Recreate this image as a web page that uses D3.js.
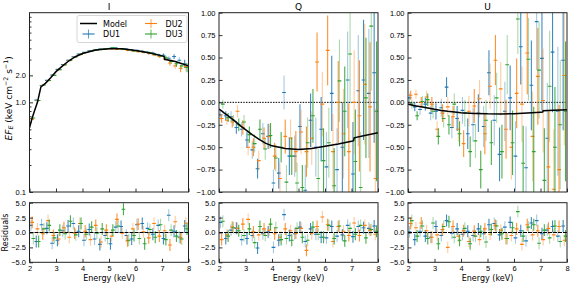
<!DOCTYPE html>
<html>
<head>
<meta charset="utf-8">
<script src="https://cdn.jsdelivr.net/npm/d3@7/dist/d3.min.js"></script>
<style>
  body { margin: 0; background: #fff; }
  svg { display: block; font-family: "DejaVu Sans", sans-serif; }
</style>
</head>
<body>
<svg id="chart" width="573" height="287"></svg>
<script>
// energy bin centres (keV) and half widths
const energy = [2.1, 2.3, 2.5, 2.7, 2.9, 3.1, 3.3, 3.5, 3.7, 3.9, 4.1, 4.3, 4.5, 4.7, 4.9,
                5.1, 5.3, 5.5, 5.7, 5.9, 6.1, 6.3, 6.5, 6.7, 6.9, 7.1, 7.3, 7.5, 7.7, 7.9];
const energyErr = 0.07;

// Stokes I (keV cm^-2 s^-1)
const iDU1 = [0.66, 1.06, 1.54, 1.76, 2.01, 2.33, 2.64, 2.95, 3.22, 3.45, 3.62, 3.76, 3.86, 3.93, 3.98,
              4.02, 4.05, 3.97, 3.92, 3.86, 3.80, 3.70, 3.62, 3.55, 3.40, 3.35, 3.10, 3.25, 2.95, 2.70];
const iDU2 = [0.65, 1.04, 1.55, 1.74, 1.99, 2.31, 2.60, 2.92, 3.18, 3.40, 3.58, 3.72, 3.84, 3.88, 3.92,
              3.95, 3.90, 3.88, 3.80, 3.75, 3.68, 3.60, 3.50, 3.38, 3.25, 3.05, 2.75, 2.55, 2.40, 2.50];
const iDU3 = [0.67, 1.05, 1.56, 1.75, 2.00, 2.32, 2.63, 2.93, 3.20, 3.43, 3.60, 3.73, 3.82, 3.92, 3.96,
              4.08, 3.98, 3.92, 3.86, 3.75, 3.72, 3.64, 3.56, 3.44, 3.30, 3.15, 2.85, 2.70, 2.55, 2.45];
const iErr = [0.01, 0.015, 0.02, 0.02, 0.025, 0.03, 0.03, 0.035, 0.04, 0.04, 0.045, 0.05, 0.05, 0.055, 0.06,
              0.065, 0.07, 0.075, 0.08, 0.085, 0.09, 0.1, 0.11, 0.12, 0.13, 0.15, 0.17, 0.2, 0.23, 0.28];

// Stokes Q and U (normalised)
const qDU1 = [-0.14, -0.15, -0.16, -0.28, -0.30, -0.42, -0.53, -0.74, -0.35, -0.38, -0.90, -0.79, 0.11, -0.60, -0.60,
              -0.27, -0.98, -0.20, -0.50, -0.30, -0.72, 0.10, -0.75, -0.50, 0.25, -0.80, 0.13, 0.25, 0.10, 0.33];
const qDU2 = [-0.18, -0.20, -0.22, -0.10, -0.28, -0.50, -0.50, -0.65, -0.40, -0.38, -0.60, -0.85, -0.38, -0.40, -0.55,
              -0.33, -0.55, -0.40, 0.45, -0.02, 0.58, -0.55, 0.00, -0.35, -0.55, 0.00, -0.15, 0.20, -0.05, -0.85];
const qDU3 = [-0.02, -0.17, -0.20, -0.25, -0.22, -0.36, -0.46, -0.30, -0.52, -0.37, -0.62, -0.50, -0.89, -0.60, -0.90,
              -0.95, -0.45, -0.15, -0.85, -0.65, -0.45, -0.93, 0.24, -0.10, 0.54, -0.66, -0.95, 0.05, 0.85, -0.10];
const uDU1 = [0.05, -0.05, -0.08, -0.02, -0.12, -0.10, -0.06, 0.17, -0.28, -0.18, -0.09, -0.35, -0.25, -0.12, -0.27,
              0.33, -0.20, -0.58, -0.10, 0.05, -0.60, 0.62, -0.73, 0.19, 0.90, 0.49, -0.40, 0.56, -0.10, 0.47];
const uDU2 = [0.08, 0.09, 0.00, 0.06, -0.02, -0.30, -0.12, -0.05, -0.16, -0.30, -0.46, -0.10, -0.04, 0.04, -0.35,
              0.18, 0.47, 0.15, -0.30, -0.50, 0.10, -0.02, 0.55, -0.38, 0.29, 0.02, -0.72, -0.97, -0.75, 0.30];
const uDU3 = [-0.02, -0.15, 0.01, 0.03, -0.10, -0.38, -0.18, -0.25, -0.02, -0.35, -0.12, -0.55, -0.43, -0.75, -0.20,
              -0.45, 0.05, -0.55, 0.42, -0.45, 0.93, -0.68, 0.48, -0.55, 0.36, -0.87, 0.18, -0.50, -0.25, -0.10];
const polErr = [0.05, 0.05, 0.06, 0.07, 0.08, 0.09, 0.10, 0.11, 0.12, 0.14, 0.15, 0.17, 0.19, 0.21, 0.23,
                0.25, 0.28, 0.30, 0.33, 0.36, 0.39, 0.42, 0.46, 0.50, 0.54, 0.58, 0.62, 0.67, 0.72, 0.78];

// residuals (sigma)
const resIDU1 = [1.2, -1.5, 1.3, 0.7, -1.8, -1.3, 0.3, 1.1, 1.5, 0.2, -1.3, 0.5, -1.1, -2.0, -0.5,
                 -1.9, 0.9, 1.0, -0.5, -1.1, 1.3, 1.5, 0.7, -0.3, 1.2, -1.0, 2.9, 0.2, -0.8, 1.1];
const resIDU2 = [1.7, 0.6, -0.2, 2.0, -0.5, -1.1, 0.8, -0.8, -0.1, 1.5, 0.2, -1.2, 1.2, -1.6, 0.4,
                 -0.6, 2.2, -0.1, -1.4, 0.6, 1.4, 0.1, -0.9, 1.5, -0.6, 0.3, -2.1, 1.8, -0.9, 1.6];
const resIDU3 = [-1.0, -1.5, 0.6, 1.2, -0.9, 0.4, -0.2, 1.9, -0.4, 1.5, -0.3, 0.9, -0.1, 0.6, -1.0,
                 0.4, 1.1, 3.9, -1.3, -0.5, -1.0, -1.9, 0.5, -0.8, 1.3, -1.2, 0.4, -0.6, -1.1, 0.6];
const resQDU1 = [1.7, -1.0, 0.4, 0.7, -1.2, -1.0, -0.5, -2.6, -0.2, 0.1, -2.5, -1.3, 3.0, -0.5, -0.2,
                 0.9, -1.5, 0.6, -0.3, -0.8, -0.9, 1.0, -0.6, -0.4, 1.2, -0.7, 1.0, 0.8, 0.7, 1.1];
const resQDU2 = [-1.2, -0.4, 0.9, 0.7, 1.4, 2.2, 0.1, -0.4, 0.6, 0.4, -0.2, -0.8, 0.6, 0.3, -0.1,
                 0.7, -3.0, -0.2, 1.0, 2.6, 1.3, -1.5, 1.0, 0.2, -0.5, 1.6, -0.5, 1.2, 0.4, -0.3];
const resQDU3 = [1.9, -0.6, 0.8, 0.3, -0.5, 0.6, -1.7, 1.0, -0.5, 1.4, 0.8, -1.2, -1.0, -1.3, 0.7,
                 -0.8, -1.3, 0.9, -0.3, -0.8, 1.2, -1.0, 1.1, -1.4, 0.7, -0.3, 1.2, -0.9, 0.5, 0.2];
const resUDU1 = [0.1, -1.2, 0.2, -0.6, -0.8, 1.0, -0.5, 2.0, -0.1, 0.6, -0.3, 0.2, -0.5, 0.6, -0.2,
                 1.3, 1.5, -0.4, 0.9, 1.7, -0.9, 0.3, -1.4, 1.6, 2.0, -0.2, 0.4, 1.0, -0.6, 1.1];
const resUDU2 = [1.5, 0.8, 1.6, 0.3, -0.8, -0.4, 0.5, -2.5, 1.0, -0.6, 0.3, -1.5, 0.2, -1.2, 0.6,
                 -0.3, 1.2, 0.4, -1.0, -0.5, 0.6, -2.0, 1.3, -0.4, 0.3, -1.2, 0.7, -0.4, 1.0, -1.3];
const resUDU3 = [2.0, -0.6, 1.1, -1.0, 1.6, -1.9, 1.0, 1.8, -0.8, -1.3, 0.7, -1.9, -0.6, 0.2, -1.6,
                 0.5, 1.1, -0.2, -1.0, 0.8, 3.5, -0.6, 0.9, 1.3, -1.8, 0.4, -0.9, 1.1, -1.5, -0.6];
const residualErr = 1;

// best-fit model
const modelEnergy = [2.0, 2.1, 2.2, 2.3, 2.43, 2.6, 2.8, 3.0, 3.25, 3.5, 3.75, 4.0, 4.5, 5.0, 5.5,
                     6.0, 6.5, 7.0, 7.08, 7.1, 7.5, 8.0];
const modelI = [0.52, 0.67, 0.82, 1.0, 1.49, 1.63, 1.88, 2.2, 2.55, 2.93, 3.25, 3.5, 3.83, 3.97, 3.95,
                3.78, 3.57, 3.3, 3.24, 3.02, 2.85, 2.55];
const modelQ = [-0.075, -0.095, -0.12, -0.14, -0.17, -0.21, -0.26, -0.305, -0.36, -0.41, -0.455, -0.485, -0.515, -0.525, -0.515,
                -0.49, -0.465, -0.435, -0.428, -0.395, -0.37, -0.34];
const modelU = [-0.02, -0.027, -0.034, -0.04, -0.047, -0.055, -0.065, -0.077, -0.09, -0.1, -0.108, -0.115, -0.123, -0.128, -0.129,
                -0.127, -0.12, -0.11, -0.108, -0.093, -0.088, -0.082];

const units = ["DU1", "DU2", "DU3"];
const colors = { DU1: "#1f77b4", DU2: "#ff7f0e", DU3: "#2ca02c" };
const dodge = { DU1: -0.045, DU2: 0, DU3: 0.045 };

const columns = [
  { title: "I", data: { DU1: iDU1, DU2: iDU2, DU3: iDU3 }, err: iErr, model: modelI,
    res: { DU1: resIDU1, DU2: resIDU2, DU3: resIDU3 } },
  { title: "Q", data: { DU1: qDU1, DU2: qDU2, DU3: qDU3 }, err: polErr, model: modelQ,
    res: { DU1: resQDU1, DU2: resQDU2, DU3: resQDU3 } },
  { title: "U", data: { DU1: uDU1, DU2: uDU2, DU3: uDU3 }, err: polErr, model: modelU,
    res: { DU1: resUDU1, DU2: resUDU2, DU3: resUDU3 } }
];

const svg = d3.select("#chart");
const colLeft = [29.5, 219, 408];
const panelW = 159;
const topBox = [12.7, 192];
const botBox = [202.7, 262.3];
const energyTicks = [2, 3, 4, 5, 6, 7, 8];

const styleAxis = (g) => {
  g.select(".domain").remove();
  g.selectAll("line").attr("stroke", "#000").attr("stroke-width", 0.8);
  g.selectAll("text").attr("fill", "#000").attr("font-size", "7.5px");
};

const drawErrorbars = (g, x, y, values, err, unit, s) => {
  const pts = values.map((v, i) => ({ e: energy[i] + dodge[unit], v, err: typeof err === "number" ? err : err[i], i }));
  const grp = g.append("g");
  grp.selectAll(".ev").data(pts).join("line")
    .attr("x1", (d) => x(d.e)).attr("x2", (d) => x(d.e))
    .attr("y1", (d) => y(d.v - d.err)).attr("y2", (d) => y(d.v + d.err))
    .attr("stroke", colors[unit]).attr("stroke-width", 1.1)
    .attr("stroke-opacity", (d) => ((d.i + s) % 2 ? 0.85 : 0.4));
  grp.selectAll(".eh").data(pts).join("line")
    .attr("x1", (d) => x(d.e - energyErr)).attr("x2", (d) => x(d.e + energyErr))
    .attr("y1", (d) => y(d.v)).attr("y2", (d) => y(d.v))
    .attr("stroke", colors[unit]).attr("stroke-width", 1.1);
};

columns.forEach((col, c) => {
  const x = d3.scaleLinear().domain([2, 8]).range([colLeft[c], colLeft[c] + panelW]);
  const yTop = c === 0
    ? d3.scaleLog().domain([0.1, 10]).range([topBox[1], topBox[0]])
    : d3.scaleLinear().domain([-1, 1]).range([topBox[1], topBox[0]]);
  const yBot = d3.scaleLinear().domain([-5, 5]).range([botBox[1], botBox[0]]);

  // clip paths
  [["top", topBox], ["bot", botBox]].forEach(([k, box]) => {
    svg.append("clipPath").attr("id", `clip-${k}-${c}`)
      .append("rect").attr("x", colLeft[c]).attr("y", box[0])
      .attr("width", panelW).attr("height", box[1] - box[0]);
  });

  // ---- top panel
  const top = svg.append("g");
  const topPlot = top.append("g").attr("clip-path", `url(#clip-top-${c})`);

  if (c > 0) {
    topPlot.append("line")
      .attr("x1", x(2)).attr("x2", x(8)).attr("y1", yTop(0)).attr("y2", yTop(0))
      .attr("stroke", "#000").attr("stroke-width", 1).attr("stroke-dasharray", "1.5,1.2");
  }
  units.forEach((u, s) => drawErrorbars(topPlot, x, yTop, col.data[u], col.err, u, s));
  topPlot.append("path")
    .datum(modelEnergy.map((e, i) => [e, col.model[i]]))
    .attr("d", d3.line().x((d) => x(d[0])).y((d) => yTop(d[1])))
    .attr("fill", "none").attr("stroke", "#000").attr("stroke-width", 1.5);

  if (c === 0) {
    top.append("g").attr("transform", `translate(${colLeft[c]},0)`)
      .call(d3.axisLeft(yTop).tickValues([0.1, 1, 2]).tickFormat(d3.format(".1f"))
        .tickSizeInner(-3.5).tickSizeOuter(0).tickPadding(3.5))
      .call(styleAxis);
    top.append("g").attr("transform", `translate(${colLeft[c]},0)`)
      .call(d3.axisLeft(yTop).tickValues([0.2, 0.3, 0.4, 0.5, 0.6, 0.7, 0.8, 0.9, 3, 4, 5, 6, 7, 8, 9])
        .tickFormat("").tickSizeInner(-2).tickSizeOuter(0))
      .call(styleAxis);
  } else {
    top.append("g").attr("transform", `translate(${colLeft[c]},0)`)
      .call(d3.axisLeft(yTop).tickValues([-1, -0.75, -0.5, -0.25, 0, 0.25, 0.5, 0.75, 1])
        .tickFormat(d3.format(".2f")).tickSizeInner(-3.5).tickSizeOuter(0).tickPadding(3.5))
      .call(styleAxis);
  }
  top.append("g").attr("transform", `translate(0,${topBox[1]})`)
    .call(d3.axisBottom(x).tickValues(energyTicks).tickFormat("").tickSizeInner(-3.5).tickSizeOuter(0))
    .call(styleAxis);
  top.append("rect")
    .attr("x", colLeft[c]).attr("y", topBox[0])
    .attr("width", panelW).attr("height", topBox[1] - topBox[0])
    .attr("fill", "none").attr("stroke", "#222").attr("stroke-width", 1);
  top.append("text")
    .attr("x", colLeft[c] + panelW / 2).attr("y", 9.5)
    .attr("text-anchor", "middle").attr("font-size", "9px")
    .text(col.title);

  // ---- residual panel
  const bot = svg.append("g");
  const botPlot = bot.append("g").attr("clip-path", `url(#clip-bot-${c})`);
  units.forEach((u, s) => drawErrorbars(botPlot, x, yBot, col.res[u], residualErr, u, s));
  botPlot.append("line")
    .attr("x1", x(2)).attr("x2", x(8)).attr("y1", yBot(0)).attr("y2", yBot(0))
    .attr("stroke", "#000").attr("stroke-width", 1.1).attr("stroke-dasharray", "4,1");

  bot.append("g").attr("transform", `translate(${colLeft[c]},0)`)
    .call(d3.axisLeft(yBot).tickValues([-5, -2.5, 0, 2.5, 5]).tickFormat(d3.format(".1f"))
      .tickSizeInner(-3.5).tickSizeOuter(0).tickPadding(3.5))
    .call(styleAxis);
  bot.append("g").attr("transform", `translate(0,${botBox[1]})`)
    .call(d3.axisBottom(x).tickValues(energyTicks).tickFormat(d3.format("d"))
      .tickSizeInner(-3.5).tickSizeOuter(0).tickPadding(3.5))
    .call(styleAxis);
  bot.append("rect")
    .attr("x", colLeft[c]).attr("y", botBox[0])
    .attr("width", panelW).attr("height", botBox[1] - botBox[0])
    .attr("fill", "none").attr("stroke", "#222").attr("stroke-width", 1);
  bot.append("text")
    .attr("x", colLeft[c] + panelW / 2).attr("y", 280.5)
    .attr("text-anchor", "middle").attr("font-size", "8px")
    .text("Energy (keV)");
});

// y labels
const yLab = svg.append("text")
  .attr("transform", `translate(11.5,${(topBox[0] + topBox[1]) / 2 - 4}) rotate(-90)`)
  .attr("text-anchor", "middle").attr("font-size", "9px");
yLab.append("tspan").attr("font-style", "italic").text("EF");
yLab.append("tspan").attr("font-style", "italic").attr("font-size", "6.3px").attr("dy", "1.6").text("E");
yLab.append("tspan").attr("dy", "-1.6").text(" (keV cm");
yLab.append("tspan").attr("font-size", "6.3px").attr("dy", "-3.3").text("−2");
yLab.append("tspan").attr("dy", "3.3").text(" s");
yLab.append("tspan").attr("font-size", "6.3px").attr("dy", "-3.3").text("−1");
yLab.append("tspan").attr("dy", "3.3").text(")");

svg.append("text")
  .attr("transform", `translate(8,${(botBox[0] + botBox[1]) / 2}) rotate(-90)`)
  .attr("text-anchor", "middle").attr("font-size", "8px")
  .text("Residuals");

// legend
const legend = svg.append("g");
legend.append("rect")
  .attr("x", 77).attr("y", 15.5).attr("width", 110).attr("height", 27).attr("rx", 2)
  .attr("fill", "#fff").attr("fill-opacity", 0.8).attr("stroke", "#ccc").attr("stroke-width", 0.8);
const legendItems = [
  { label: "Model", cx: 88.5, cy: 23.5 },
  { label: "DU1", cx: 88.5, cy: 34 },
  { label: "DU2", cx: 151, cy: 23.5 },
  { label: "DU3", cx: 151, cy: 34 }
];
legendItems.forEach((it) => {
  if (it.label === "Model") {
    legend.append("line").attr("x1", it.cx - 8.5).attr("x2", it.cx + 8.5)
      .attr("y1", it.cy).attr("y2", it.cy).attr("stroke", "#000").attr("stroke-width", 1.5);
  } else {
    legend.append("line").attr("x1", it.cx - 6).attr("x2", it.cx + 6)
      .attr("y1", it.cy).attr("y2", it.cy).attr("stroke", colors[it.label]).attr("stroke-width", 1.1);
    legend.append("line").attr("x1", it.cx).attr("x2", it.cx)
      .attr("y1", it.cy - 4.5).attr("y2", it.cy + 4.5).attr("stroke", colors[it.label])
      .attr("stroke-width", 1.1).attr("stroke-opacity", 0.7);
  }
  legend.append("text").attr("x", it.cx + 14.5).attr("y", it.cy + 3)
    .attr("font-size", "8px").text(it.label);
});
</script>
</body>
</html>
